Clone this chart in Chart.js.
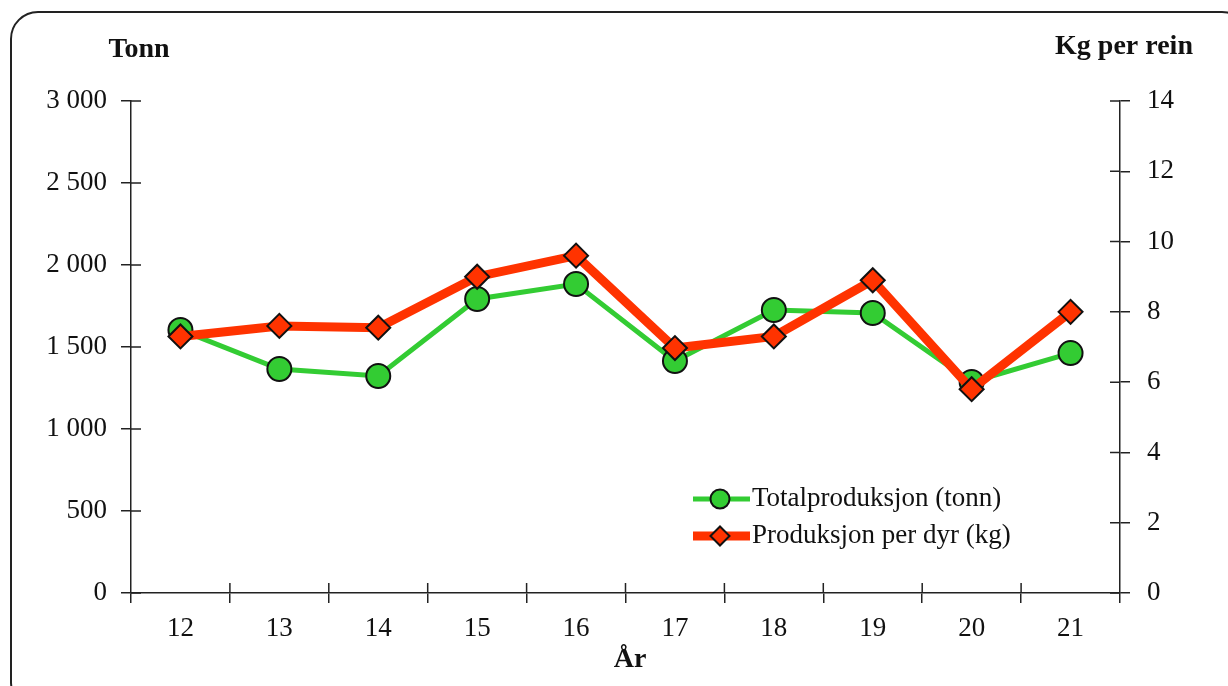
<!DOCTYPE html>
<html>
<head>
<meta charset="utf-8">
<script src="https://cdn.jsdelivr.net/npm/chart.js@4.4.1/dist/chart.umd.min.js"></script>
<style>
  body { margin: 0; overflow: hidden; background: #fff; }
  #ramme {
    position: absolute; left: 10px; top: 11px; width: 1240px; height: 700px;
    border: 2.5px solid #222; border-radius: 28px; box-sizing: border-box;
  }
  #myChart { position: absolute; left: 0; top: 0; }
</style>
</head>
<body>
<div id="ramme"></div>
<canvas id="myChart" width="1228" height="686"></canvas>
<script>
// Data lest av figuren
const aar = ['12', '13', '14', '15', '16', '17', '18', '19', '20', '21'];
const totalTonn = [1604, 1366, 1323, 1793, 1884, 1415, 1726, 1707, 1287, 1463];
const kgPerDyr = [7.3, 7.6, 7.55, 9.0, 9.6, 6.97, 7.3, 8.9, 5.8, 8.0];
const tonnTicks = [0, 500, 1000, 1500, 2000, 2500, 3000];
const kgTicks = [0, 2, 4, 6, 8, 10, 12, 14];

const serif = 'Liberation Serif';
const gronn = '#33cc33';
const rod = '#ff3300';

// Formater tall med mellomrom som tusenskille
function tusen(v) {
    if (v >= 1000) return Math.floor(v / 1000) + ' ' + String(v % 1000).padStart(3, '0');
    return String(v);
}

// Tekster, legende og tick-merker på innsiden av aksene
const ekstra = {
    id: 'ekstra',
    afterDraw(chart) {
        const ctx = chart.ctx;
        const x = chart.scales.x, y = chart.scales.y, y1 = chart.scales.y1;
        ctx.save();
        ctx.strokeStyle = '#222';
        ctx.lineWidth = 1.5;
        ctx.beginPath();
        y.ticks.forEach(t => {
            const p = y.getPixelForValue(t.value);
            ctx.moveTo(x.left, p); ctx.lineTo(x.left + 10, p);
        });
        y1.ticks.forEach(t => {
            const p = y1.getPixelForValue(t.value);
            ctx.moveTo(x.right, p); ctx.lineTo(x.right - 10, p);
        });
        const steg = x.getPixelForValue(1) - x.getPixelForValue(0);
        for (let i = 1; i < aar.length; i++) {
            const p = x.getPixelForValue(i) - steg / 2;
            ctx.moveTo(p, y.bottom); ctx.lineTo(p, y.bottom - 10);
        }
        ctx.stroke();

        // aksetitler
        ctx.fillStyle = '#111';
        ctx.font = 'bold 28px "' + serif + '"';
        ctx.textAlign = 'center';
        ctx.textBaseline = 'middle';
        ctx.fillText('Tonn', 139, 50);
        ctx.fillText('Kg per rein', 1124, 47);
        ctx.fillText('År', 630, 660);

        // legende
        const rader = [
            { tekst: 'Totalproduksjon (tonn)', ds: chart.data.datasets[0], yy: 499 },
            { tekst: 'Produksjon per dyr (kg)', ds: chart.data.datasets[1], yy: 536 }
        ];
        rader.forEach(r => {
            ctx.strokeStyle = r.ds.borderColor;
            ctx.lineWidth = r.ds.borderWidth;
            ctx.beginPath();
            ctx.moveTo(693, r.yy); ctx.lineTo(750, r.yy);
            ctx.stroke();
            ctx.fillStyle = r.ds.pointBackgroundColor;
            ctx.strokeStyle = '#111';
            ctx.lineWidth = 2;
            Chart.helpers.drawPoint(ctx, { pointStyle: r.ds.pointStyle, radius: 9.5, borderWidth: 2 }, 720, r.yy);
            ctx.fillStyle = '#111';
            ctx.font = '27px "' + serif + '"';
            ctx.textAlign = 'left';
            ctx.fillText(r.tekst, 752, r.yy);
        });
        ctx.restore();
    }
};

const tickFont = { family: serif, size: 27 };

new Chart(document.getElementById('myChart').getContext('2d'), {
    type: 'line',
    data: {
        labels: aar,
        datasets: [
            {
                label: 'Totalproduksjon (tonn)',
                data: totalTonn,
                yAxisID: 'y',
                borderColor: gronn,
                borderWidth: 5,
                pointStyle: 'circle',
                pointRadius: 12,
                pointBackgroundColor: gronn,
                pointBorderColor: '#111',
                pointBorderWidth: 2,
                tension: 0,
                order: 2
            },
            {
                label: 'Produksjon per dyr (kg)',
                data: kgPerDyr,
                yAxisID: 'y1',
                borderColor: rod,
                borderWidth: 9,
                pointStyle: 'rectRot',
                pointRadius: 12,
                pointBackgroundColor: rod,
                pointBorderColor: '#111',
                pointBorderWidth: 2,
                tension: 0,
                order: 1
            }
        ]
    },
    options: {
        responsive: false,
        animation: false,
        layout: { padding: { top: 101 } },
        plugins: {
            legend: { display: false },
            tooltip: { enabled: false }
        },
        scales: {
            x: {
                offset: true,
                grid: { display: true, drawOnChartArea: false, offset: true, tickLength: 10, color: '#222', lineWidth: 1.5 },
                border: { color: '#222', width: 1.5 },
                ticks: { font: tickFont, color: '#111', padding: 10, maxRotation: 0 },
                afterFit(s) { s.height = 93; }
            },
            y: {
                position: 'left',
                min: 0,
                max: 3000,
                afterBuildTicks(s) { s.ticks = tonnTicks.map(v => ({ value: v })); },
                grid: { display: true, drawOnChartArea: false, tickLength: 10, color: '#222', lineWidth: 1.5 },
                border: { color: '#222', width: 1.5 },
                ticks: { font: tickFont, color: '#111', padding: 14, callback: v => tusen(v) },
                afterFit(s) { s.width = 131; }
            },
            y1: {
                position: 'right',
                min: 0,
                max: 14,
                afterBuildTicks(s) { s.ticks = kgTicks.map(v => ({ value: v })); },
                grid: { display: true, drawOnChartArea: false, tickLength: 10, color: '#222', lineWidth: 1.5 },
                border: { color: '#222', width: 1.5 },
                ticks: { font: tickFont, color: '#111', padding: 17 },
                afterFit(s) { s.width = 108; }
            }
        }
    },
    plugins: [ekstra]
});
</script>
</body>
</html>
